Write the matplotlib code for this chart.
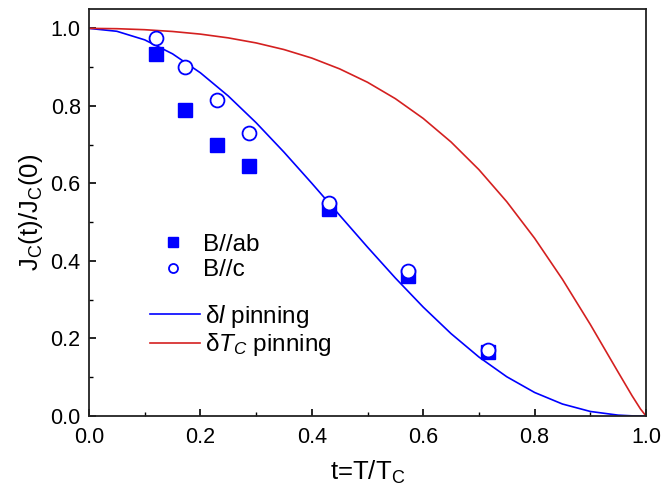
import matplotlib
matplotlib.use("Agg")
import matplotlib.pyplot as plt
from matplotlib.lines import Line2D

plt.rcParams['font.family'] = ['Liberation Sans', 'DejaVu Sans']
plt.rcParams['mathtext.fontset'] = 'custom'
plt.rcParams['mathtext.rm'] = 'Liberation Sans'
plt.rcParams['mathtext.it'] = 'Liberation Sans:italic'

# Measured data
t_meas = [0.12, 0.172, 0.23, 0.287, 0.43, 0.573, 0.717]
jc_ab = [0.935, 0.79, 0.70, 0.645, 0.535, 0.36, 0.165]
jc_c = [0.975, 0.90, 0.815, 0.73, 0.55, 0.375, 0.17]

# Theory curves
t_curve = [0.0, 0.05, 0.1, 0.15, 0.2, 0.25, 0.3, 0.35, 0.4, 0.45, 0.5,
           0.55, 0.6, 0.65, 0.7, 0.75, 0.8, 0.85, 0.9, 0.95, 0.975, 0.99, 1.0]
jc_dl = [1.0, 0.9925, 0.9704, 0.9343, 0.8854, 0.8256, 0.7567, 0.6808, 0.6004,
         0.5179, 0.4357, 0.3560, 0.2810, 0.2125, 0.1522, 0.1013, 0.0607,
         0.0309, 0.0117, 0.0022, 0.0004, 0.0, 0.0]
jc_dtc = [1.0, 0.9992, 0.9966, 0.9920, 0.9852, 0.9755, 0.9625, 0.9454, 0.9234,
          0.8955, 0.8610, 0.8187, 0.7677, 0.7069, 0.6356, 0.5529, 0.4586,
          0.3526, 0.2362, 0.1131, 0.0522, 0.0183, 0.0]

fig = plt.figure(figsize=(6.64, 4.95), dpi=100)
ax = fig.add_axes([89/664, 1-416/495, (646-89)/664, (416-9)/495])

blue = '#0000ff'
red = '#d42020'

ax.plot(t_curve, jc_dl, color=blue, lw=1.2)
ax.plot(t_curve, jc_dtc, color=red, lw=1.2)
ax.plot(t_meas, jc_ab, 's', color=blue, ms=9.5, ls='none')
ax.plot(t_meas, jc_c, 'o', mfc='white', mec=blue, mew=1.3, ms=10, ls='none')

ax.set_xlim(0, 1.0)
ax.set_ylim(0, 1.05)
ax.set_xticks([0, 0.2, 0.4, 0.6, 0.8, 1.0])
ax.set_yticks([0, 0.2, 0.4, 0.6, 0.8, 1.0])
ax.set_xticks([0.1, 0.3, 0.5, 0.7, 0.9], minor=True)
ax.set_yticks([0.1, 0.3, 0.5, 0.7, 0.9], minor=True)
ax.tick_params(which='both', direction='in', labelsize=15.5, top=False, right=False)
ax.tick_params(which='major', length=5, width=1.2)
ax.tick_params(axis='x', which='major', pad=8)
ax.tick_params(axis='y', which='major', pad=6)
ax.tick_params(which='minor', length=3, width=1.0)
for s in ax.spines.values():
    s.set_linewidth(1.3)
    s.set_color('#222222')

ax.set_xlabel(r't=T/T$_\mathrm{C}$', fontsize=18.5, labelpad=8)
ax.set_ylabel(r'J$_\mathrm{C}$(t)/J$_\mathrm{C}$(0)', fontsize=18.5, labelpad=4)

h1 = [
    Line2D([], [], marker='s', color=blue, ls='none', ms=6.5),
    Line2D([], [], marker='o', mfc='white', mec=blue, mew=1.3, ls='none', ms=6.5),
]
leg1 = fig.legend(h1, ['B//ab', 'B//c'], loc='center left',
                  bbox_to_anchor=(153.6/664, 1-257.5/495),
                  frameon=False, fontsize=17.5, handlelength=1.6,
                  handletextpad=0.43, labelspacing=0.15,
                  borderpad=0, borderaxespad=0)
h2 = [
    Line2D([], [], color=blue, lw=1.2),
    Line2D([], [], color=red, lw=1.2),
]
leg2 = fig.legend(h2, [r'δ$\it{l}$ pinning', r'δ$\it{T_C}$ pinning'],
                  loc='center left', bbox_to_anchor=(150/664, 1-330.5/495),
                  frameon=False, fontsize=17.5, handlelength=2.06,
                  handletextpad=0.2, labelspacing=0.05,
                  borderpad=0, borderaxespad=0)

fig.savefig('out.png', dpi=100)
